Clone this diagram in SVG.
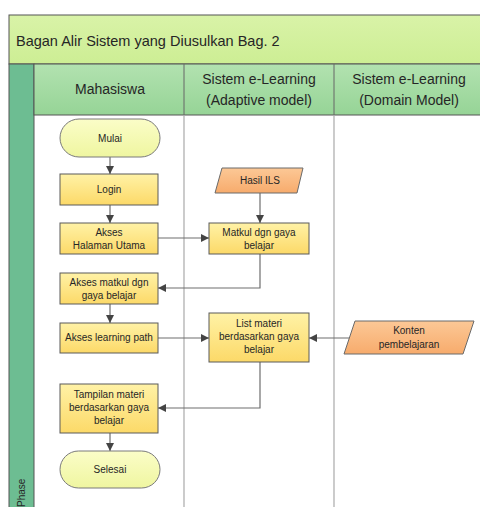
<svg xmlns="http://www.w3.org/2000/svg" width="480" height="507" viewBox="0 0 480 507">
  <defs>
    <linearGradient id="gProc" x1="0" y1="0" x2="0" y2="1">
      <stop offset="0" stop-color="#fff2a6"/>
      <stop offset="1" stop-color="#fcd968"/>
    </linearGradient>
    <linearGradient id="gTerm" x1="0" y1="0" x2="0" y2="1">
      <stop offset="0" stop-color="#fbfdc8"/>
      <stop offset="1" stop-color="#eff6a0"/>
    </linearGradient>
    <linearGradient id="gData" x1="0" y1="0" x2="0" y2="1">
      <stop offset="0" stop-color="#fcc896"/>
      <stop offset="1" stop-color="#f7ab6c"/>
    </linearGradient>
    <linearGradient id="gHead" x1="0" y1="0" x2="0" y2="1">
      <stop offset="0" stop-color="#b2e2b0"/>
      <stop offset="1" stop-color="#96d496"/>
    </linearGradient>
    <linearGradient id="gTitle" x1="0" y1="0" x2="0" y2="1">
      <stop offset="0" stop-color="#d9f3a8"/>
      <stop offset="1" stop-color="#cdee94"/>
    </linearGradient>
    <marker id="arr" viewBox="0 0 10 10" refX="10" refY="5" markerWidth="8" markerHeight="8" markerUnits="userSpaceOnUse" orient="auto">
      <path d="M0,0 L10,5 L0,10 z" fill="#444"/>
    </marker>
  </defs>
  <style>
    .t { font-family: "Liberation Sans", Arial, sans-serif; fill: #262626; text-anchor: middle; }
    .n { font-size: 10px; }
    .h { font-size: 14px; }
    .proc { fill: url(#gProc); stroke: #5a5a5a; stroke-width: 1; }
    .term { fill: url(#gTerm); stroke: #7a7a7a; stroke-width: 1; }
    .data { fill: url(#gData); stroke: #6a6a6a; stroke-width: 1; }
    .edge { fill: none; stroke: #6e6e6e; stroke-width: 1.2; marker-end: url(#arr); }
    .lane { stroke: #a9a9a9; stroke-width: 1.2; }
  </style>

  <!-- swimlane frame -->
  <g id="pool">
    <rect x="0" y="0" width="480" height="507" fill="#ffffff"/>
    <rect x="9" y="15" width="472" height="49" fill="url(#gTitle)" stroke="#555" stroke-width="1"/>
    <text class="t" x="16" y="46" style="font-size:14.5px;text-anchor:start">Bagan Alir Sistem yang Diusulkan Bag. 2</text>
    <rect x="9" y="64" width="25" height="444" fill="#6dbd92" stroke="#555" stroke-width="1"/>
    <text class="t" transform="translate(25,507) rotate(-90)" style="font-size:10px;text-anchor:start">Phase</text>
    <rect x="34" y="64" width="447" height="51" fill="url(#gHead)" stroke="#555" stroke-width="1"/>
    <line x1="184" y1="64" x2="184" y2="115" stroke="#666" stroke-width="1"/>
    <line x1="334" y1="64" x2="334" y2="115" stroke="#666" stroke-width="1"/>
    <text class="t h" x="110" y="94">Mahasiswa</text>
    <text class="t h" x="259" y="84">Sistem e-Learning</text>
    <text class="t h" x="259" y="105">(Adaptive model)</text>
    <text class="t h" x="409" y="84">Sistem e-Learning</text>
    <text class="t h" x="409" y="105">(Domain Model)</text>
    <line class="lane" x1="184" y1="115" x2="184" y2="507"/>
    <line class="lane" x1="334" y1="115" x2="334" y2="507"/>
  </g>

  <!-- connectors -->
  <g id="connectors">
    <line class="edge" x1="110" y1="157" x2="110" y2="174"/>
    <line class="edge" x1="110" y1="205" x2="110" y2="223"/>
    <line class="edge" x1="158" y1="238" x2="209" y2="238"/>
    <line class="edge" x1="260" y1="193" x2="260" y2="223"/>
    <polyline class="edge" points="260,254 260,288 158,288"/>
    <line class="edge" x1="110" y1="304" x2="110" y2="323"/>
    <line class="edge" x1="158" y1="338" x2="209" y2="338"/>
    <line class="edge" x1="350" y1="338" x2="309" y2="338"/>
    <polyline class="edge" points="260,362 260,408 158,408"/>
    <line class="edge" x1="110" y1="433" x2="110" y2="451"/>
  </g>

  <!-- nodes -->
  <g id="mulai">
    <rect class="term" x="60" y="119" width="100" height="38" rx="19" ry="19"/>
    <text class="t n" x="110" y="142">Mulai</text>
  </g>
  <g id="login">
    <rect class="proc" x="60" y="174" width="98" height="31"/>
    <text class="t n" x="109" y="193">Login</text>
  </g>
  <g id="akses-halaman">
    <rect class="proc" x="60" y="223" width="98" height="31"/>
    <text class="t n" x="109" y="236">Akses</text>
    <text class="t n" x="109" y="249">Halaman Utama</text>
  </g>
  <g id="hasil-ils">
    <polygon class="data" points="222,168 303,168 297,193 215,193"/>
    <text class="t n" x="260" y="184">Hasil ILS</text>
  </g>
  <g id="matkul">
    <rect class="proc" x="209" y="223" width="100" height="31"/>
    <text class="t n" x="259" y="236">Matkul dgn gaya</text>
    <text class="t n" x="259" y="249">belajar</text>
  </g>
  <g id="akses-matkul">
    <rect class="proc" x="60" y="273" width="98" height="31"/>
    <text class="t n" x="109" y="286">Akses matkul dgn</text>
    <text class="t n" x="109" y="299">gaya belajar</text>
  </g>
  <g id="learning-path">
    <rect class="proc" x="60" y="323" width="98" height="30"/>
    <text class="t n" x="109" y="341">Akses learning path</text>
  </g>
  <g id="list-materi">
    <rect class="proc" x="209" y="313" width="100" height="49"/>
    <text class="t n" x="259" y="327">List materi</text>
    <text class="t n" x="259" y="340">berdasarkan gaya</text>
    <text class="t n" x="259" y="353">belajar</text>
  </g>
  <g id="konten">
    <polygon class="data" points="355,321 474,321 463,354 344,354"/>
    <text class="t n" x="409" y="334">Konten</text>
    <text class="t n" x="409" y="348">pembelajaran</text>
  </g>
  <g id="tampilan">
    <rect class="proc" x="60" y="384" width="98" height="49"/>
    <text class="t n" x="109" y="398">Tampilan materi</text>
    <text class="t n" x="109" y="411">berdasarkan gaya</text>
    <text class="t n" x="109" y="424">belajar</text>
  </g>
  <g id="selesai">
    <rect class="term" x="60" y="451" width="100" height="37" rx="18.5" ry="18.5"/>
    <text class="t n" x="110" y="473">Selesai</text>
  </g>
</svg>
